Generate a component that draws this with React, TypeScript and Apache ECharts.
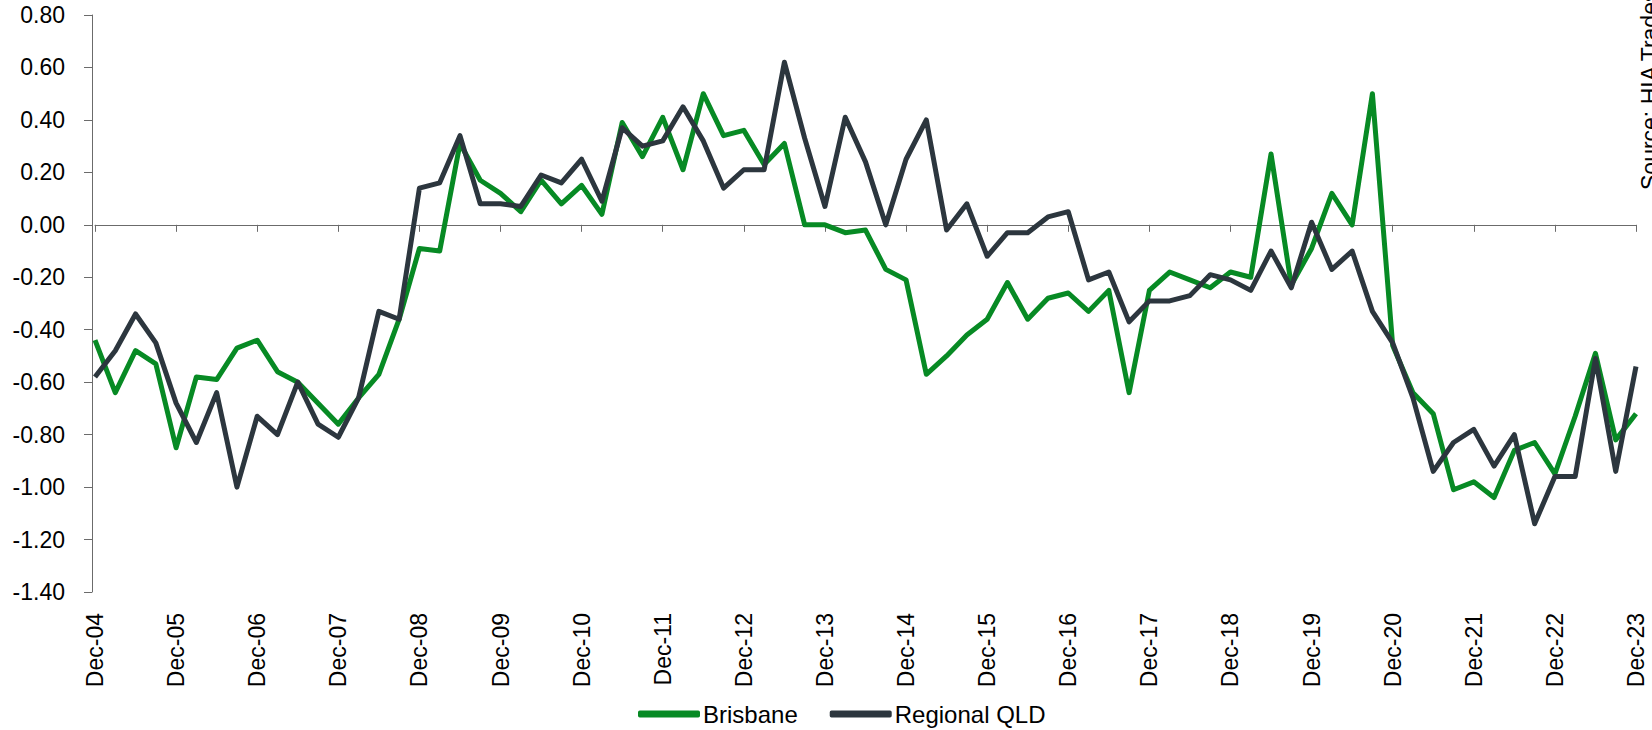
import React, { useEffect, useRef } from "react";
import * as echarts from "echarts";

const categories: string[] = [
  "Dec-04", "Mar-05", "Jun-05", "Sep-05", "Dec-05", "Mar-06", "Jun-06", "Sep-06",
  "Dec-06", "Mar-07", "Jun-07", "Sep-07", "Dec-07", "Mar-08", "Jun-08", "Sep-08",
  "Dec-08", "Mar-09", "Jun-09", "Sep-09", "Dec-09", "Mar-10", "Jun-10", "Sep-10",
  "Dec-10", "Mar-11", "Jun-11", "Sep-11", "Dec-11", "Mar-12", "Jun-12", "Sep-12",
  "Dec-12", "Mar-13", "Jun-13", "Sep-13", "Dec-13", "Mar-14", "Jun-14", "Sep-14",
  "Dec-14", "Mar-15", "Jun-15", "Sep-15", "Dec-15", "Mar-16", "Jun-16", "Sep-16",
  "Dec-16", "Mar-17", "Jun-17", "Sep-17", "Dec-17", "Mar-18", "Jun-18", "Sep-18",
  "Dec-18", "Mar-19", "Jun-19", "Sep-19", "Dec-19", "Mar-20", "Jun-20", "Sep-20",
  "Dec-20", "Mar-21", "Jun-21", "Sep-21", "Dec-21", "Mar-22", "Jun-22", "Sep-22",
  "Dec-22", "Mar-23", "Jun-23", "Sep-23", "Dec-23",
];

const brisbane: number[] = [
  -0.44, -0.64, -0.48, -0.53, -0.85, -0.58, -0.59, -0.47,
  -0.44, -0.56, -0.60, -0.68, -0.76, -0.66, -0.57, -0.36,
  -0.09, -0.10, 0.31, 0.17, 0.12, 0.05, 0.17, 0.08,
  0.15, 0.04, 0.39, 0.26, 0.41, 0.21, 0.50, 0.34,
  0.36, 0.23, 0.31, 0.00, 0.00, -0.03, -0.02, -0.17,
  -0.21, -0.57, -0.50, -0.42, -0.36, -0.22, -0.36, -0.28,
  -0.26, -0.33, -0.25, -0.64, -0.25, -0.18, -0.21, -0.24,
  -0.18, -0.20, 0.27, -0.23, -0.09, 0.12, 0.00, 0.50,
  -0.46, -0.64, -0.72, -1.01, -0.98, -1.04, -0.86, -0.83,
  -0.95, -0.73, -0.49, -0.82, -0.72,
];

const regionalQld: number[] = [
  -0.58, -0.48, -0.34, -0.45, -0.68, -0.83, -0.64, -1.00,
  -0.73, -0.80, -0.60, -0.76, -0.81, -0.66, -0.33, -0.36,
  0.14, 0.16, 0.34, 0.08, 0.08, 0.07, 0.19, 0.16,
  0.25, 0.09, 0.37, 0.30, 0.32, 0.45, 0.32, 0.14,
  0.21, 0.21, 0.62, 0.33, 0.07, 0.41, 0.24, 0.00,
  0.25, 0.40, -0.02, 0.08, -0.12, -0.03, -0.03, 0.03,
  0.05, -0.21, -0.18, -0.37, -0.29, -0.29, -0.27, -0.19,
  -0.21, -0.25, -0.10, -0.24, 0.01, -0.17, -0.10, -0.33,
  -0.45, -0.66, -0.94, -0.83, -0.78, -0.92, -0.80, -1.14,
  -0.96, -0.96, -0.51, -0.94, -0.54,
];

const seriesNames: string[] = ["Brisbane", "Regional QLD"];
const sourceText = "Source: HIA Trades";

const FONT = "'Liberation Sans', Arial, sans-serif";
const GREEN = "#078a24";
const DARK = "#2c363e";
const AXIS = "#6b6b6b";

export default function App() {
  const ref = useRef<HTMLDivElement>(null);

  useEffect(() => {
    if (!ref.current) return;
    const chart = echarts.init(ref.current, undefined, { renderer: "svg" });
    chart.setOption({
      animation: false,
      backgroundColor: "#ffffff",
      textStyle: { fontFamily: FONT },
      grid: { left: 95, right: 16, top: 15, bottom: 138, containLabel: false },
      legend: {
        data: seriesNames,
        left: 633,
        top: 697,
        icon: "roundRect",
        itemWidth: 62,
        itemHeight: 7,
        itemGap: 32,
        textStyle: { fontFamily: FONT, fontSize: 24, color: "#000000", padding: [0, 0, 0, -2] },
      },
      xAxis: [
        {
          type: "category",
          data: categories,
          boundaryGap: false,
          axisLine: { show: true, onZero: true, lineStyle: { color: AXIS, width: 1 } },
          axisTick: { show: true, interval: 3, length: 7, lineStyle: { color: AXIS } },
          axisLabel: { show: false },
          splitLine: { show: false },
        },
        {
          type: "category",
          data: categories,
          boundaryGap: false,
          position: "bottom",
          axisLine: { show: false, onZero: false },
          axisTick: { show: false },
          axisLabel: {
            show: true,
            interval: 3,
            rotate: 90,
            margin: 21,
            fontFamily: FONT,
            fontSize: 23,
            color: "#000000",
          },
          splitLine: { show: false },
        },
      ],
      yAxis: {
        type: "value",
        min: -1.4,
        max: 0.8,
        interval: 0.2,
        offset: 3,
        axisLine: { show: true, lineStyle: { color: AXIS, width: 1 } },
        axisTick: { show: true, length: 8, lineStyle: { color: AXIS } },
        axisLabel: {
          margin: 27,
          fontFamily: FONT,
          fontSize: 23,
          color: "#000000",
          formatter: (v: number) => v.toFixed(2),
        },
        splitLine: { show: false },
      },
      series: [
        {
          name: seriesNames[0],
          type: "line",
          data: brisbane,
          xAxisIndex: 0,
          showSymbol: false,
          symbol: "none",
          lineStyle: { color: GREEN, width: 5, join: "round" },
          itemStyle: { color: GREEN },
          z: 2,
        },
        {
          name: seriesNames[1],
          type: "line",
          data: regionalQld,
          xAxisIndex: 0,
          showSymbol: false,
          symbol: "none",
          lineStyle: { color: DARK, width: 5, join: "round" },
          itemStyle: { color: DARK },
          z: 3,
        },
      ],
      graphic: [
        {
          type: "text",
          x: 1638,
          y: 190,
          rotation: Math.PI / 2,
          style: {
            text: sourceText,
            fontFamily: FONT,
            fontSize: 23,
            fill: "#000000",
            textAlign: "left",
            textVerticalAlign: "top",
          },
        },
      ],
    });
    return () => chart.dispose();
  }, []);

  return <div ref={ref} style={{ width: 1652, height: 730, position: "absolute", left: 0, top: 0 }} />;
}
